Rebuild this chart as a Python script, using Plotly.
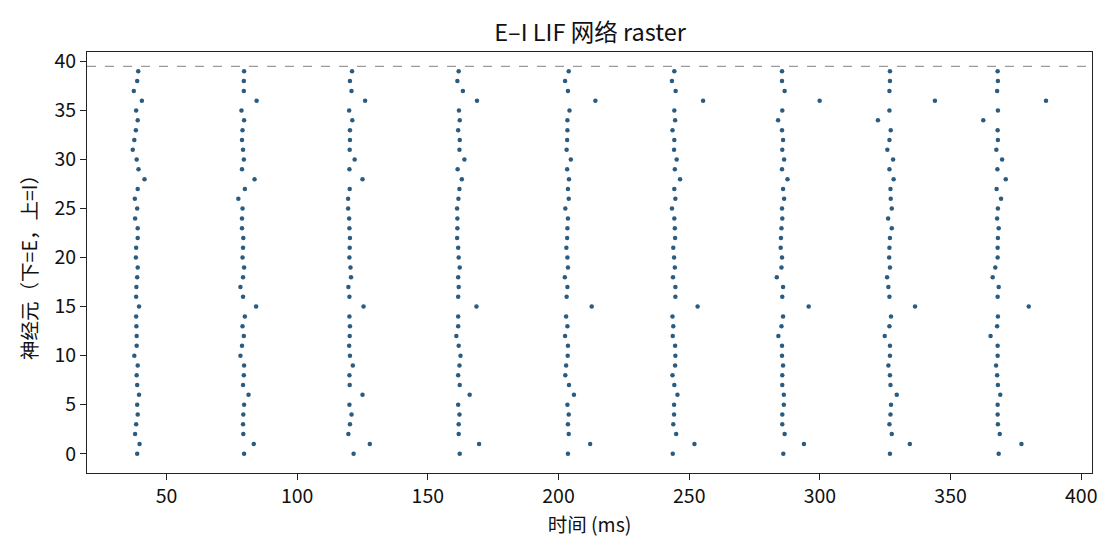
import plotly.graph_objects as go

# spike time (ms) of each neuron 0..39 in each of the nine population bursts
neurons = list(range(40))

burst_1 = [38.8, 39.7, 38.0, 38.4, 39.0, 38.8, 39.5, 38.8, 38.6, 39.0,
           37.7, 38.6, 38.6, 38.5, 38.4, 39.5, 38.4, 38.5, 38.8, 39.0,
           38.3, 38.4, 39.0, 39.0, 38.0, 38.8, 37.9, 39.0, 41.6, 39.3,
           38.6, 37.1, 37.7, 38.3, 39.0, 38.4, 40.6, 37.5, 38.8, 39.2]
burst_2 = [79.7, 83.4, 79.4, 79.3, 79.4, 79.7, 81.4, 79.3, 79.6, 79.7,
           78.3, 78.9, 79.6, 79.1, 80.0, 84.3, 79.3, 78.3, 79.3, 79.7,
           79.1, 79.3, 79.4, 78.9, 78.9, 79.1, 77.5, 80.0, 83.7, 78.9,
           79.6, 79.3, 78.9, 79.1, 79.7, 78.7, 84.5, 79.6, 79.6, 79.7]
burst_3 = [121.6, 127.8, 119.6, 120.2, 120.8, 120.0, 125.0, 120.1, 120.0, 121.3,
           120.2, 119.9, 120.1, 120.2, 120.0, 125.4, 120.0, 119.6, 120.6, 120.4,
           120.0, 120.1, 120.2, 120.0, 119.9, 119.5, 119.5, 120.1, 125.0, 120.0,
           122.0, 120.1, 120.2, 120.2, 121.1, 119.9, 126.0, 120.8, 120.2, 121.0]
burst_4 = [162.2, 169.6, 161.8, 161.8, 162.1, 161.6, 166.0, 162.2, 161.6, 162.1,
           162.5, 161.8, 160.9, 161.6, 161.6, 168.6, 161.6, 161.8, 161.6, 162.2,
           161.8, 161.6, 161.2, 161.3, 161.3, 161.2, 161.7, 162.1, 163.0, 161.4,
           164.0, 162.1, 162.2, 161.6, 162.2, 161.9, 168.8, 163.4, 161.3, 161.8]
burst_5 = [203.6, 212.1, 203.9, 203.6, 203.9, 203.4, 205.9, 204.0, 202.6, 202.9,
           203.5, 203.6, 202.5, 203.4, 202.9, 212.7, 203.1, 203.4, 202.4, 203.6,
           203.4, 203.0, 203.3, 203.4, 203.6, 202.6, 203.9, 203.6, 204.0, 203.3,
           204.7, 203.1, 203.3, 203.4, 203.4, 204.2, 214.1, 203.6, 202.5, 203.9]
burst_6 = [243.7, 252.0, 245.0, 243.9, 244.2, 244.2, 245.5, 244.3, 243.6, 244.6,
           244.7, 244.6, 243.7, 243.9, 243.6, 253.2, 244.7, 244.7, 243.8, 244.5,
           244.2, 243.9, 244.6, 244.5, 244.3, 243.4, 244.7, 244.3, 246.5, 244.5,
           245.2, 244.2, 244.3, 243.6, 244.6, 244.3, 255.3, 244.8, 243.4, 244.3]
burst_7 = [286.0, 293.9, 286.5, 285.6, 285.6, 286.2, 286.2, 285.6, 285.6, 285.9,
           285.5, 285.5, 284.1, 285.3, 285.9, 295.7, 285.6, 285.9, 283.5, 285.3,
           285.5, 285.0, 285.1, 285.3, 285.6, 285.5, 286.3, 285.9, 287.6, 285.5,
           286.3, 285.6, 285.9, 285.5, 284.0, 285.6, 299.9, 286.5, 285.5, 285.5]
burst_8 = [326.8, 334.4, 327.5, 326.6, 327.0, 327.2, 329.4, 327.0, 326.8, 326.2,
           326.8, 326.8, 324.8, 326.6, 327.2, 336.4, 326.6, 326.2, 325.7, 326.8,
           326.5, 326.6, 326.8, 327.5, 326.1, 327.5, 327.1, 327.0, 328.2, 326.6,
           328.0, 325.8, 326.6, 327.1, 322.2, 326.6, 344.0, 326.6, 326.8, 326.8]
burst_9 = [368.4, 377.1, 368.8, 368.1, 368.0, 368.0, 369.0, 368.1, 367.8, 367.4,
           368.0, 368.0, 365.3, 367.8, 368.1, 379.9, 368.0, 368.4, 366.1, 367.1,
           368.0, 368.0, 368.1, 368.4, 367.8, 368.1, 369.3, 367.6, 371.1, 367.9,
           369.7, 367.5, 368.1, 368.0, 362.5, 368.1, 386.5, 367.8, 368.1, 368.0]

# E/I boundary (neurons above are inhibitory)
ei_boundary = 39.5

x_ticks = [50, 100, 150, 200, 250, 300, 350, 400]
y_ticks = [0, 5, 10, 15, 20, 25, 30, 35, 40]

bursts = [burst_1, burst_2, burst_3, burst_4, burst_5,
          burst_6, burst_7, burst_8, burst_9]
spike_t = []
spike_n = []
for b in bursts:
    spike_t += b
    spike_n += neurons

FONT = "Noto Sans CJK SC, Microsoft YaHei, sans-serif"

fig = go.Figure()
fig.add_trace(go.Scatter(
    x=spike_t, y=spike_n, mode="markers",
    marker=dict(size=4.5, color="#2a5b80", line=dict(width=0)),
    showlegend=False, hoverinfo="x+y"))

fig.add_shape(type="line", xref="paper", x0=0, x1=1, yref="y",
              y0=ei_boundary, y1=ei_boundary,
              line=dict(color="#9a9a9a", width=1.1, dash="dash"))

axis_common = dict(
    showgrid=False, zeroline=False, showline=True, mirror=True,
    linecolor="#222222", linewidth=1.1,
    ticks="outside", ticklen=6, tickwidth=1.1, tickcolor="#222222",
    tickfont=dict(family=FONT, size=19.5, color="#111111"),
)

# page body adds an 8px offset, so the figure is 8px smaller than the window
fig.update_layout(
    width=1112, height=552,
    margin=dict(l=79, r=28, t=44, b=87, autoexpand=False),
    paper_bgcolor="white", plot_bgcolor="white",
    font=dict(family=FONT, color="#111111"),
    title=dict(text="E–I LIF 网络 raster", x=0.5234, xanchor="center",
               y=1 - 25 / 552, yanchor="middle", yref="container",
               font=dict(family=FONT, size=23.5, color="#111111")),
)
fig.update_xaxes(range=[19.6, 404.1], tickvals=x_ticks,
                 title=dict(text="时间 (ms)", standoff=9,
                            font=dict(family=FONT, size=19.5)),
                 **axis_common)
fig.update_yaxes(range=[-1.97, 40.97], tickvals=y_ticks,
                 title=dict(text="神经元（下=E，上=I）", standoff=11,
                            font=dict(family=FONT, size=19.5)),
                 **axis_common)

fig.write_html("out.html")
